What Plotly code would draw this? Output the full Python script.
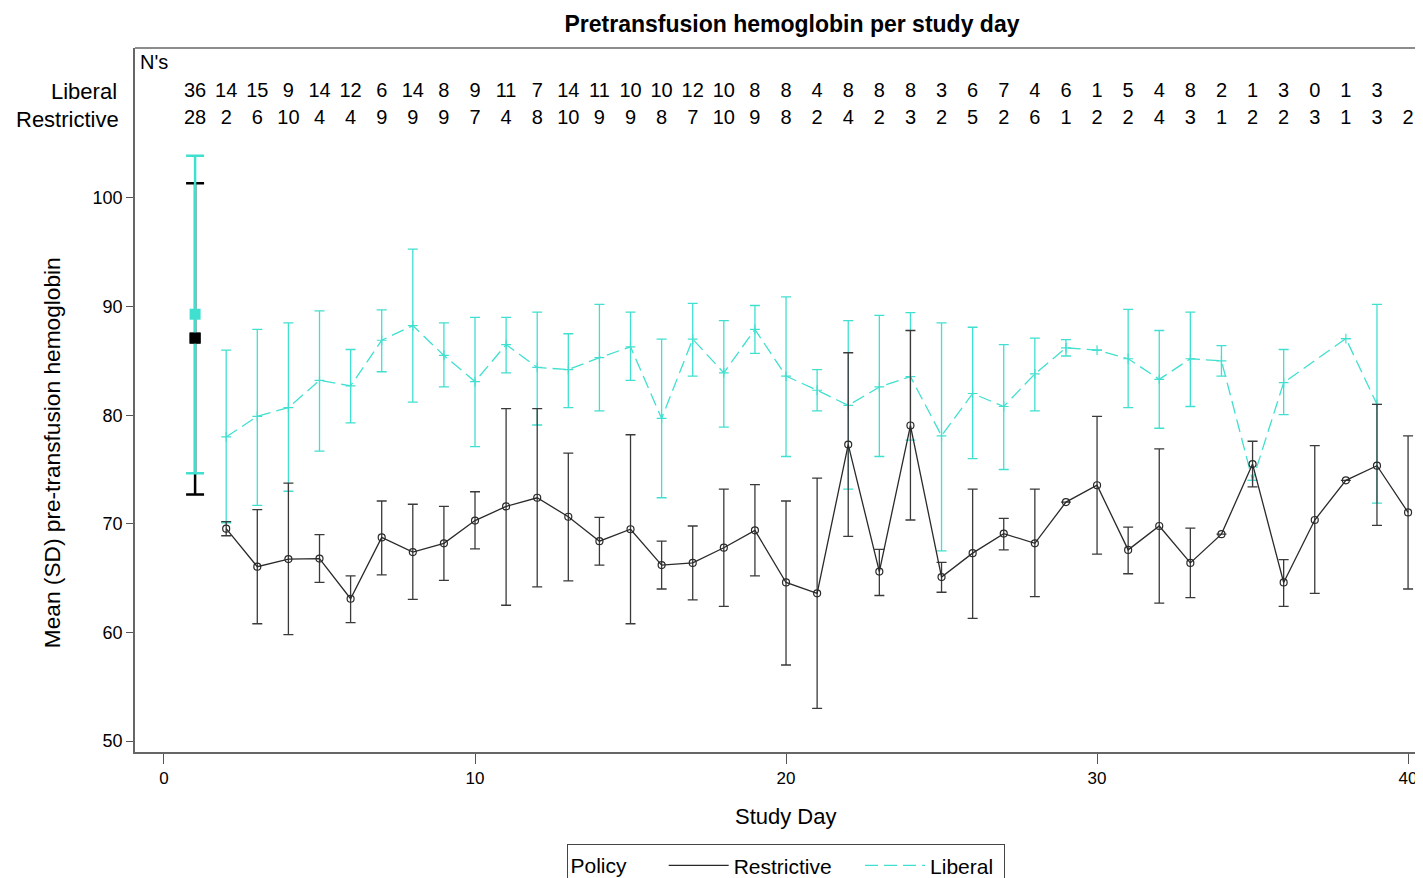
import plotly.graph_objects as go

# ---------------- data ----------------
days = list(range(2, 41))

lib_mean = [78.0, 79.9, 80.7, 83.2, 82.7, 86.9, 88.25, 85.5, 83.1, 86.5,
            84.4, 84.2, 85.3, 86.3, 79.7, 87.0, 83.9, 87.9, 83.6, 82.3,
            80.9, 82.6, 83.55, 78.1, 82.0, 80.8, 83.8, 86.2, 86.0, 85.2,
            83.3, 85.2, 85.0, 74.0, 83.0, None, 87.05, 81.0, None]
lib_hi = [86.0, 87.9, 88.5, 89.6, 86.05, 89.7, 95.3, 88.5, 89.0, 89.0,
          89.5, 87.5, 90.2, 89.5, 87.0, 90.3, 88.7, 90.1, 90.9, 84.2,
          88.7, 89.2, 89.45, 88.5, 88.1, 86.5, 87.1, 86.95, None, 89.75,
          87.8, 89.5, 86.4, None, 86.05, None, None, 90.2, None]
lib_lo = [70.1, 71.7, 73.0, 76.7, 79.3, 84.0, 81.2, 82.6, 77.1, 83.9,
          79.1, 80.7, 80.4, 83.2, 72.4, 83.6, 78.9, 85.7, 76.2, 80.4,
          73.2, 76.2, 77.7, 67.5, 76.0, 75.0, 80.4, 85.45, None, 80.7,
          78.8, 80.8, 83.6, None, 80.05, None, None, 71.9, None]

res_mean = [69.55, 66.05, 66.75, 66.8, 63.1, 68.75, 67.4, 68.2, 70.3, 71.6,
            72.4, 70.65, 68.4, 69.5, 66.2, 66.4, 67.8, 69.4, 64.6, 63.6,
            77.3, 65.6, 79.05, 65.1, 67.3, 69.1, 68.2, 72.0, 73.55, 67.6,
            69.8, 66.4, 69.05, 75.5, 64.6, 70.35, 74.0, 75.35, 71.05]
res_hi = [70.2, 71.3, 73.75, 69.0, 65.2, 72.1, 71.8, 71.6, 72.95, 80.6,
          80.6, 76.5, 70.6, 78.2, 68.4, 69.8, 73.2, 73.6, 72.1, 74.2,
          85.75, 67.65, 87.8, 66.45, 73.2, 70.5, 73.2, None, 79.9, 69.7,
          76.9, 69.6, None, 77.6, 66.7, 77.2, None, 81.0, 78.1]
res_lo = [68.9, 60.8, 59.8, 64.6, 60.9, 65.3, 63.05, 64.8, 67.7, 62.5,
          64.2, 64.75, 66.2, 60.8, 64.0, 63.0, 62.4, 65.2, 57.0, 53.0,
          68.85, 63.4, 70.35, 63.7, 61.3, 67.6, 63.3, None, 67.2, 65.4,
          62.7, 63.2, None, 73.4, 62.4, 63.6, None, 69.85, 64.0]

base_day = [1]
base_lib_mean, base_lib_hi, base_lib_lo = [89.3], [103.9], [74.65]
base_res_mean, base_res_hi, base_res_lo = [87.1], [101.35], [72.7]

n_lib = [36, 14, 15, 9, 14, 12, 6, 14, 8, 9, 11, 7, 14, 11, 10, 10, 12, 10, 8,
         8, 4, 8, 8, 8, 3, 6, 7, 4, 6, 1, 5, 4, 8, 2, 1, 3, 0, 1, 3]
n_res = [28, 2, 6, 10, 4, 4, 9, 9, 9, 7, 4, 8, 10, 9, 9, 8, 7, 10, 9,
         8, 2, 4, 2, 3, 2, 5, 2, 6, 1, 2, 2, 4, 3, 1, 2, 2, 3, 1, 3, 2]

# ---------------- helpers ----------------
def plus(hi, m):
    return [None if (h is None or v is None) else h - v for h, v in zip(hi, m)]

def minus(lo, m):
    return [None if (l is None or v is None) else v - l for l, v in zip(lo, m)]

CYAN = "#40E0D0"
DARK = "#2a2a2a"
FONT = "Liberation Sans, Arial, sans-serif"

# page body has an 8px margin: figure pixels = screen pixels - 8
W, H = 1415, 870

fig = go.Figure()

# Liberal series
fig.add_trace(go.Scatter(
    x=days, y=lib_mean, mode="lines+markers", connectgaps=True,
    line=dict(color=CYAN, width=1.3, dash="13px,6px"),
    marker=dict(symbol="cross-thin", size=7, line=dict(color=CYAN, width=1.2)),
    error_y=dict(type="data", symmetric=False, array=plus(lib_hi, lib_mean),
                 arrayminus=minus(lib_lo, lib_mean), color=CYAN, thickness=1.3, width=5),
    showlegend=False, hoverinfo="skip"))

# Restrictive series
fig.add_trace(go.Scatter(
    x=days, y=res_mean, mode="lines+markers",
    line=dict(color=DARK, width=1.3),
    marker=dict(symbol="circle-open", size=7, color=DARK, line=dict(color=DARK, width=1.2)),
    error_y=dict(type="data", symmetric=False, array=plus(res_hi, res_mean),
                 arrayminus=minus(res_lo, res_mean), color="#3a3a3a", thickness=1.3, width=5),
    showlegend=False, hoverinfo="skip"))

# Baseline (day 1): restrictive bar, liberal bar + square, then restrictive square on top
fig.add_trace(go.Scatter(
    x=base_day, y=base_res_mean, mode="markers",
    marker=dict(symbol="square", size=11, color="black"),
    error_y=dict(type="data", symmetric=False, array=plus(base_res_hi, base_res_mean),
                 arrayminus=minus(base_res_lo, base_res_mean), color="black",
                 thickness=2.5, width=9),
    showlegend=False, hoverinfo="skip"))
fig.add_trace(go.Scatter(
    x=base_day, y=base_lib_mean, mode="markers",
    marker=dict(symbol="square", size=11, color=CYAN),
    error_y=dict(type="data", symmetric=False, array=plus(base_lib_hi, base_lib_mean),
                 arrayminus=minus(base_lib_lo, base_lib_mean), color=CYAN,
                 thickness=2.5, width=9),
    showlegend=False, hoverinfo="skip"))
fig.add_trace(go.Scatter(
    x=base_day, y=base_res_mean, mode="markers",
    marker=dict(symbol="square", size=11, color="black"),
    showlegend=False, hoverinfo="skip"))

# N's rows
Y_LIB_ROW = 109.76
Y_RES_ROW = 107.27
fig.add_trace(go.Scatter(
    x=list(range(1, len(n_lib) + 1)), y=[Y_LIB_ROW] * len(n_lib),
    text=[str(v) for v in n_lib], mode="text", cliponaxis=False,
    textfont=dict(size=20, color="black", family=FONT),
    showlegend=False, hoverinfo="skip"))
fig.add_trace(go.Scatter(
    x=list(range(1, len(n_res) + 1)), y=[Y_RES_ROW] * len(n_res),
    text=[str(v) for v in n_res], mode="text", cliponaxis=False,
    textfont=dict(size=20, color="black", family=FONT),
    showlegend=False, hoverinfo="skip"))

# legend entries
fig.add_trace(go.Scatter(x=[None], y=[None], mode="lines",
                         name="Restrictive&nbsp;&nbsp;&nbsp;&nbsp;",
                         line=dict(color=DARK, width=1.3)))
fig.add_trace(go.Scatter(x=[None], y=[None], mode="lines", name="Liberal&nbsp;",
                         line=dict(color=CYAN, width=1.3, dash="13px,6px")))

fig.update_layout(
    width=W, height=H,
    margin=dict(l=127, r=0, t=40, b=126, autoexpand=False),
    paper_bgcolor="white", plot_bgcolor="white",
    font=dict(family=FONT, color="black"),
    title=dict(text="<b>Pretransfusion hemoglobin per study day</b>",
               font=dict(size=23, family=FONT, color="black"),
               xref="container", x=(792 - 8) / W, xanchor="center",
               yref="container", y=1 - 16 / H, yanchor="middle"),
    xaxis=dict(range=[-0.932, 40.48], tickvals=[0, 10, 20, 30, 40],
               ticks="outside", ticklen=10, tickcolor="#555", showline=True,
               linecolor="#666", linewidth=1.5, showgrid=False, zeroline=False,
               tickfont=dict(size=17)),
    yaxis=dict(range=[48.99, 113.81], tickvals=[50, 60, 70, 80, 90, 100],
               ticks="outside", ticklen=7, tickcolor="#555", showline=True,
               linecolor="#666", linewidth=1.5, showgrid=False, zeroline=False,
               tickfont=dict(size=18)),
    legend=dict(orientation="h", x=0.5058, xanchor="center", y=-0.131, yanchor="top",
                bordercolor="#444", borderwidth=1, font=dict(size=21),
                title=dict(text="Policy&nbsp;&nbsp;&nbsp;&nbsp;&nbsp;", font=dict(size=21)),
                itemwidth=60, tracegroupgap=0),
    shapes=[dict(type="line", xref="paper", yref="paper", x0=0, x1=1, y0=1, y1=1,
                 line=dict(color="#666", width=1.5))],
    annotations=[
        dict(text="N's", xref="paper", x=0, xshift=3, xanchor="left",
             yref="y", y=112.5, showarrow=False, font=dict(size=20)),
        dict(text="Liberal", xref="paper", x=0, xshift=-16, xanchor="right",
             yref="y", y=Y_LIB_ROW, showarrow=False, font=dict(size=22)),
        dict(text="Restrictive", xref="paper", x=0, xshift=-14, xanchor="right",
             yref="y", y=Y_RES_ROW, showarrow=False, font=dict(size=22)),
        dict(text="Mean (SD) pre-transfusion hemoglobin", textangle=-90,
             xref="paper", x=0, xshift=-83, xanchor="center",
             yref="y", y=76.5, yanchor="middle", showarrow=False,
             font=dict(size=22.7)),
        dict(text="Study Day", xref="paper", x=0.5054, xanchor="center",
             yref="paper", y=-0.0923, yanchor="middle", showarrow=False,
             font=dict(size=22)),
    ],
)

fig.write_html("out.html")
